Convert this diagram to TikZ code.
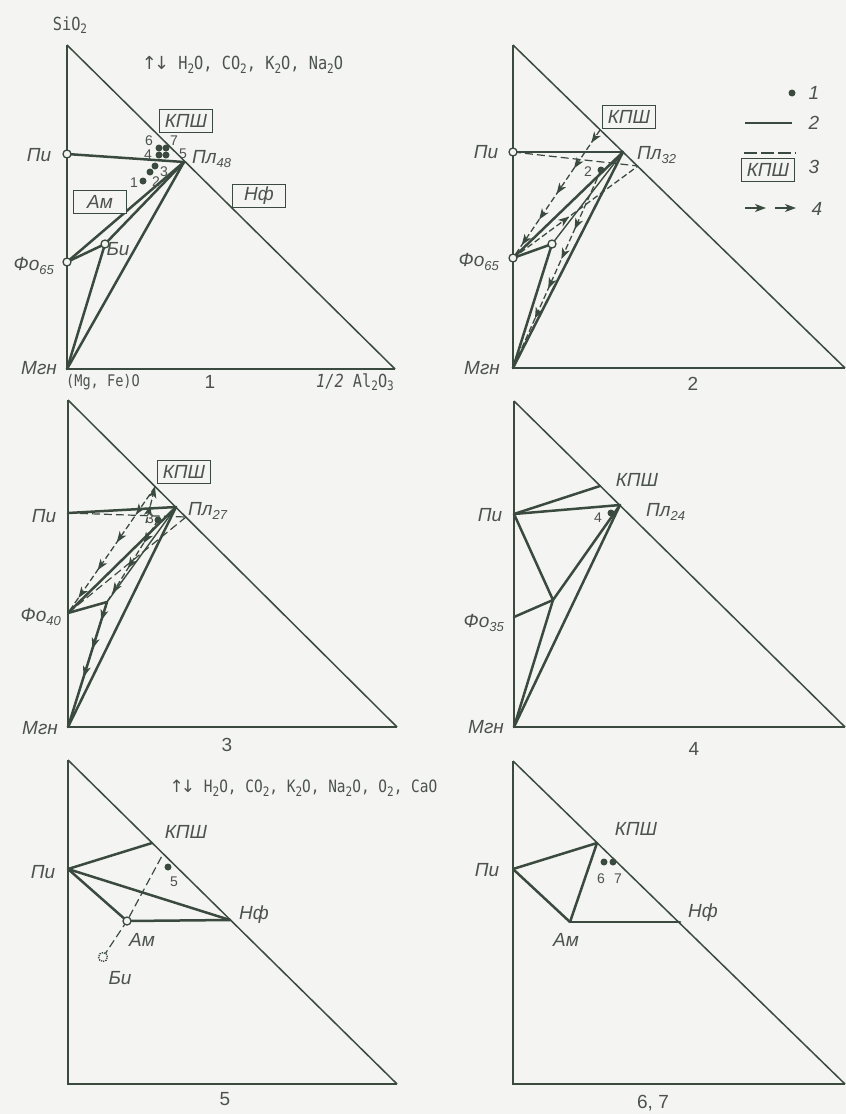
\documentclass[tikz,border=0pt]{standalone}
\usepackage{fontspec}
\setmainfont{Liberation Sans}
\newfontfamily\lab{Liberation Sans}
\newfontfamily\chem{DejaVu Sans Mono}[FakeStretch=0.85]
\newfontfamily\sym{DejaVu Sans}
\usetikzlibrary{arrows.meta,decorations.markings}
\definecolor{ink}{HTML}{3B4A3F}
\definecolor{txt}{HTML}{4C524D}
\definecolor{bg}{HTML}{F4F4F2}
\newcommand\lsub[1]{\raisebox{-4.5pt}{\fontsize{13}{13}\selectfont #1}}
\newcommand\csub[1]{\raisebox{-3.5pt}{\fontsize{13}{13}\selectfont #1}}
\tikzset{
  edge/.style={draw=ink, line width=2.6pt},
  hyp/.style={draw=ink, line width=1.5pt},
  tie/.style={draw=ink, line width=2.5pt, line join=round, line cap=round},
  thintie/.style={draw=ink, line width=1.4pt},
  dtie/.style={draw=ink, line width=1.2pt, dash pattern=on 8pt off 4pt},
  arrowline/.style={draw=ink, line width=1.3pt, dash pattern=on 6pt off 3pt,
     postaction={decorate},
     decoration={markings, mark=between positions #1 with {\arrow[solid]{Stealth[length=11pt,width=8pt,inset=3pt]}}}},
  arrowone/.style={draw=ink, line width=1.3pt, dash pattern=on 6pt off 3pt,
     postaction={decorate},
     decoration={markings, mark=at position #1 with {\arrow[solid]{Stealth[length=11pt,width=8pt,inset=3pt]}}}},
  lbl/.style={font=\lab\itshape\fontsize{19}{20}\selectfont, text=txt, inner sep=1pt},
  small/.style={font=\lab\fontsize{14}{14}\selectfont, text=txt, inner sep=0.5pt},
  num/.style={font=\lab\fontsize{19}{20}\selectfont, text=txt, inner sep=1pt},
  chemlbl/.style={font=\chem\fontsize{18}{19}\selectfont, text=txt, inner sep=1pt},
  box/.style={draw=ink, line width=1.4pt, fill=bg, font=\lab\itshape\fontsize{19}{20}\selectfont, text=txt, minimum width=53pt, minimum height=23pt, inner sep=0pt},
  opn/.style={circle, draw=ink, fill=bg, line width=1.3pt, inner sep=0pt, minimum size=8pt},
  dot/.style={circle, fill=ink, inner sep=0pt, minimum size=7pt},
}
\begin{document}
\begin{tikzpicture}[x=1pt,y=-1pt]
\fill[bg] (0,0) rectangle (846,1114);
\useasboundingbox (0,0) rectangle (846,1114);

%================ Panel 1 ================
\coordinate (A1t) at (67,45);
\coordinate (A1m) at (67,369);
\coordinate (A1r) at (395,369);
\coordinate (Pi1) at (67,154);
\coordinate (Pl1) at (184,162);
\coordinate (Fo1) at (67,262);
\coordinate (Bi1) at (105,244);
\draw[edge] (A1t) -- (A1m) -- (A1r);
\draw[hyp] (A1t) -- (A1r);
\draw[tie] (Pi1) -- (Pl1);
\draw[tie] (Fo1) -- (Pl1);
\draw[tie] (Fo1) -- (Bi1);
\draw[tie] (Bi1) -- (Pl1);
\draw[tie] (A1m) -- (Bi1);
\draw[tie] (A1m) -- (Pl1);
\node[opn] (pi1c) at (Pi1) {};
\node[opn] (fo1c) at (Fo1) {};
\node[opn] (bi1c) at (Bi1) {};
\node[dot] (d1a) at (143,181) {};
\node[dot] (d1b) at (150,172) {};
\node[dot] (d1c) at (155,166) {};
\node[dot] (d1d) at (159,155) {};
\node[dot] (d1e) at (166,155) {};
\node[dot] (d1f) at (159,148) {};
\node[dot] (d1g) at (166,148) {};
\node[small] (n1a) at (134,183) {1};
\node[small] (n1b) at (156,182) {2};
\node[small] (n1c) at (164,172) {3};
\node[small] (n1d) at (148,155) {4};
\node[small] (n1e) at (183,154) {5};
\node[small] (n1f) at (149,141) {6};
\node[small] (n1g) at (174,141) {7};
\node[box] (kps1) at (186,121) {КПШ};
\node[box] (am1) at (100,202) {Ам};
\node[box] (nf1) at (259,196) {Нф};
\node[lbl, anchor=west] (pl1l) at (191,159) {Пл\lsub{48}};
\node[lbl] (pi1l) at (39,155) {Пи};
\node[lbl, anchor=east] (fo1l) at (55,266) {Фо\lsub{65}};
\node[lbl] (bi1l) at (118,249) {Би};
\node[lbl] (mg1l) at (39,368) {Мгн};
\node[chemlbl] (sio2) at (70,25) {SiO\csub{2}};
\node[chemlbl] (fl1) at (243,65) {{\sym\kern-1pt↑\kern-3pt↓} H\csub{2}O, CO\csub{2}, K\csub{2}O, Na\csub{2}O};
\node[chemlbl, font=\chem\fontsize{16}{17}\selectfont] (mgfe) at (103,382) {(Mg, Fe)O};
\node[num] (p1) at (210,382) {1};
\node[chemlbl] (al) at (355,382) {\textit{1/2} Al\csub{2}O\csub{3}};

%================ Panel 2 ================
\coordinate (A2t) at (513,45);
\coordinate (A2m) at (513,368);
\coordinate (A2r) at (845,368);
\coordinate (Pi2) at (513,152);
\coordinate (Pl2) at (623,152);
\coordinate (Plp2) at (638,166);
\coordinate (K2) at (600,130);
\coordinate (Fo2) at (513,258);
\coordinate (Bi2) at (552,244);
\coordinate (D2) at (601,170);
\draw[edge] (A2t) -- (A2m) -- (A2r);
\draw[hyp] (A2t) -- (A2r);
\draw[dtie] (Pi2) -- (Plp2);
\draw[tie] (Pi2) -- (Pl2);
\draw[tie] (Fo2) -- (Pl2);
\draw[tie] (Fo2) -- (Bi2);
\draw[thintie] (Bi2) -- (Pl2);
\draw[tie] (A2m) -- (Bi2);
\draw[tie] (A2m) -- (Pl2);
\draw[arrowone=0.45] (Fo2) -- (Plp2);
\draw[arrowline=0.1 and 0.95 step 0.2] (K2) -- (Fo2);
\draw[arrowline=0.3 and 0.8 step 0.15] (D2) -- (A2m);
\node[opn] (pi2c) at (Pi2) {};
\node[opn] (fo2c) at (Fo2) {};
\node[opn] (bi2c) at (Bi2) {};
\node[dot] (d2) at (D2) {};
\node[small] (n2) at (588,172) {2};
\node[box] (kps2) at (629,117) {КПШ};
\node[lbl, anchor=west] (pl2l) at (636,155) {Пл\lsub{32}};
\node[lbl] (pi2l) at (486,152) {Пи};
\node[lbl, anchor=east] (fo2l) at (500,262) {Фо\lsub{65}};
\node[lbl] (mg2l) at (482,368) {Мгн};
\node[num] (p2) at (693,384) {2};
% legend
\node[dot] (lgd) at (792,93) {};
\node[lbl] (lg1) at (814,93) {1};
\coordinate (lg2a) at (745,123);
\coordinate (lg2b) at (792,123);
\draw[tie, line cap=butt] (lg2a) -- (lg2b);
\node[lbl] (lg2) at (814,123) {2};
\coordinate (lg3a) at (744,153);
\coordinate (lg3b) at (796,153);
\draw[dtie, dash pattern=on 13pt off 4pt] (lg3a) -- (lg3b);
\node[box] (lgbox) at (768,170) {КПШ};
\node[lbl] (lg3) at (814,167) {3};
\coordinate (lg4a) at (745,208);
\coordinate (lg4b) at (766,208);
\coordinate (lg4c) at (775,208);
\coordinate (lg4d) at (796,208);
\draw[draw=ink, line width=1.4pt, -{Stealth[length=11pt,width=8pt,inset=3pt]}] (lg4a) -- (lg4b);
\draw[draw=ink, line width=1.4pt, -{Stealth[length=11pt,width=8pt,inset=3pt]}] (lg4c) -- (lg4d);
\node[lbl] (lg4) at (817,209) {4};

%================ Panel 3 ================
\coordinate (A3t) at (68,400);
\coordinate (A3m) at (68,727);
\coordinate (A3r) at (397,727);
\coordinate (Pi3) at (68,513);
\coordinate (Pl3) at (176,507);
\coordinate (Plp3) at (186,517);
\coordinate (K3) at (155,487);
\coordinate (Fo3) at (68,613);
\coordinate (In3) at (107,602);
\coordinate (D3) at (158,520);
\coordinate (S3) at (146,523);
\draw[edge] (A3t) -- (A3m) -- (A3r);
\draw[hyp] (A3t) -- (A3r);
\draw[dtie] (Pi3) -- (Plp3);
\draw[dtie] (Plp3) -- (Fo3);
\draw[tie] (Pi3) -- (Pl3);
\draw[tie] (Fo3) -- (Pl3);
\draw[tie] (Fo3) -- (In3);
\draw[thintie] (In3) -- (Pl3);
\draw[tie] (A3m) -- (In3);
\draw[tie] (A3m) -- (Pl3);
\draw[arrowline=0.5 and 1 step 0.5] (S3) -- (K3);
\draw[arrowline=0.22 and 0.95 step 0.22] (K3) -- (Fo3);
\draw[arrowline=0.12 and 0.9 step 0.13] (D3) -- (In3) -- (A3m);
\node[dot] (d3) at (D3) {};
\node[small] (n3) at (150,519) {3};
\node[box] (kps3) at (184,472) {КПШ};
\node[lbl, anchor=west] (pl3l) at (187,511) {Пл\lsub{27}};
\node[lbl] (pi3l) at (44,516) {Пи};
\node[lbl, anchor=east] (fo3l) at (62,617) {Фо\lsub{40}};
\node[lbl] (mg3l) at (40,728) {Мгн};
\node[num] (p3) at (227,745) {3};

%================ Panel 4 ================
\coordinate (A4t) at (514,401);
\coordinate (A4m) at (514,727);
\coordinate (A4r) at (845,727);
\coordinate (Pi4) at (514,514);
\coordinate (K4) at (600,486);
\coordinate (Pl4) at (620,505);
\coordinate (Fo4) at (514,617);
\coordinate (In4) at (553,600);
\draw[edge] (A4t) -- (A4m) -- (A4r);
\draw[hyp] (A4t) -- (A4r);
\draw[tie] (Pi4) -- (K4);
\draw[tie] (Pi4) -- (Pl4);
\draw[tie] (Pi4) -- (In4);
\draw[tie] (Fo4) -- (In4);
\draw[tie] (In4) -- (Pl4);
\draw[tie] (A4m) -- (In4);
\draw[tie] (A4m) -- (Pl4);
\node[dot] (d4) at (611,513) {};
\node[small] (n4) at (598,518) {4};
\node[lbl] (k4l) at (637,480) {КПШ};
\node[lbl, anchor=west] (pl4l) at (645,512) {Пл\lsub{24}};
\node[lbl] (pi4l) at (490,515) {Пи};
\node[lbl, anchor=east] (fo4l) at (505,623) {Фо\lsub{35}};
\node[lbl] (mg4l) at (486,727) {Мгн};
\node[num] (p4) at (694,749) {4};

%================ Panel 5 ================
\coordinate (A5t) at (68,760);
\coordinate (A5m) at (68,1084);
\coordinate (A5r) at (397,1084);
\coordinate (Pi5) at (68,869);
\coordinate (K5) at (152,843);
\coordinate (Nf5) at (230,920);
\coordinate (Am5) at (127,921);
\coordinate (Bi5) at (103,957);
\coordinate (H5) at (163,854);
\draw[edge] (A5t) -- (A5m) -- (A5r);
\draw[hyp] (A5t) -- (A5r);
\draw[dtie] (Bi5) -- (Am5) -- (H5);
\draw[tie] (Pi5) -- (K5);
\draw[tie] (Pi5) -- (Nf5);
\draw[tie] (Pi5) -- (Am5);
\draw[tie] (Am5) -- (Nf5);
\node[opn] (am5c) at (Am5) {};
\node[circle, draw=ink, densely dotted, line width=1.3pt, fill=bg, inner sep=0pt, minimum size=9pt] (bi5c) at (Bi5) {};
\node[dot] (d5) at (168,867) {};
\node[small] (n5) at (174,882) {5};
\node[lbl] (k5l) at (186,832) {КПШ};
\node[lbl] (nf5l) at (254,915) {Нф};
\node[lbl] (am5l) at (142,940) {Ам};
\node[lbl] (bi5l) at (120,978) {Би};
\node[lbl] (pi5l) at (43,872) {Пи};
\node[chemlbl, font=\chem\fontsize{17}{18}\selectfont] (fl5) at (304,788) {{\sym\kern-1pt↑\kern-3pt↓} H\csub{2}O, CO\csub{2}, K\csub{2}O, Na\csub{2}O, O\csub{2}, CaO};
\node[num] (p5) at (225,1099) {5};

%================ Panel 6 ================
\coordinate (A6t) at (513,761);
\coordinate (A6m) at (513,1084);
\coordinate (A6r) at (845,1084);
\coordinate (Pi6) at (513,869);
\coordinate (K6) at (597,843);
\coordinate (Nf6) at (680,922);
\coordinate (Am6) at (570,922);
\draw[edge] (A6t) -- (A6m) -- (A6r);
\draw[hyp] (A6t) -- (A6r);
\draw[tie] (Pi6) -- (K6);
\draw[tie] (Pi6) -- (Am6);
\draw[tie] (Am6) -- (K6);
\draw[tie] (Am6) -- (Nf6);
\node[dot] (d6) at (604,862) {};
\node[dot] (d7) at (613,862) {};
\node[small] (n6) at (601,879) {6};
\node[small] (n7) at (618,879) {7};
\node[lbl] (k6l) at (636,829) {КПШ};
\node[lbl] (nf6l) at (703,913) {Нф};
\node[lbl] (am6l) at (566,940) {Ам};
\node[lbl] (pi6l) at (487,870) {Пи};
\node[num] (p6) at (653,1103) {6, 7};
\end{tikzpicture}
\end{document}
